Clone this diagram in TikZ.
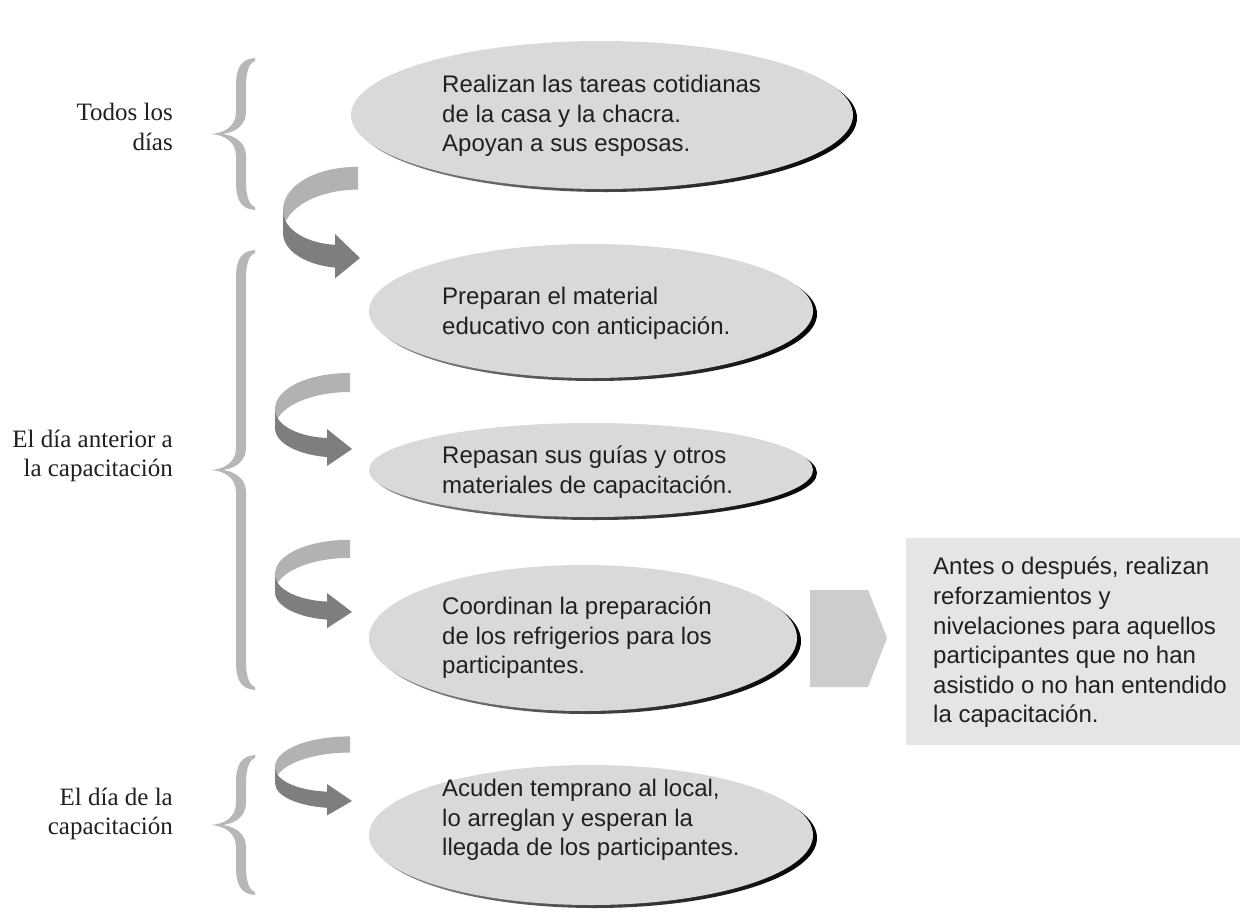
\documentclass[tikz,border=0pt]{standalone}
\usepackage{fontspec}
\setmainfont{Liberation Serif}
\newfontfamily\sansf{Liberation Sans}
\usetikzlibrary{shapes.geometric}
\definecolor{ellfill}{HTML}{D9D9D9}
\definecolor{boxfill}{HTML}{E5E5E5}
\definecolor{pentfill}{HTML}{CDCDCD}
\definecolor{bracecol}{HTML}{B6B7BA}
\definecolor{ribbonL}{HTML}{B2B2B2}
\definecolor{ribbonD}{HTML}{7E7E7E}
\definecolor{txt}{HTML}{231F20}
\tikzset{
  ellbox/.style={ellipse, fill=ellfill, draw=none, inner sep=0pt},
  elltext/.style={anchor=west, align=left, inner sep=0pt, text=txt,
    font=\sansf\fontsize{24}{29.6}\selectfont},
  sidelabel/.style={anchor=east, align=right, inner sep=0pt, text=txt,
    font=\fontsize{25}{29.5}\selectfont},
  ribbonlight/.style={fill=ribbonL, draw=none},
  ribbondark/.style={fill=ribbonD, draw=none},
}
% curled arrow: tip x, tip y, yscale
\newcommand{\curlarr}[3]{%
  \begin{scope}[shift={(#1,#2)}, yscale=#3]
    \fill[ribbonlight] (-2,-76) .. controls (-45,-76) and (-77,-60) .. (-77,-40)
      -- (-77,-21) .. controls (-77,-41) and (-43,-57) .. (-2,-57) -- cycle;
    \fill[ribbondark] (-77,-40) .. controls (-77,-22) and (-50,-12) .. (-25,-11)
      -- (-25,-20) -- (0,0) -- (-25,17) -- (-25,8)
      .. controls (-52,6) and (-77,-5) .. (-77,-21) -- cycle;
  \end{scope}}
% grey brace: right x, middle y, half height
\newcommand{\gbrace}[3]{%
  \begin{scope}[shift={(#1,#2)}]
    \fill[bracecol] (0,-#3) .. controls (-14,-#3+1) and (-19,-#3+10) .. (-19,-#3+28)
      -- (-19,-22) .. controls (-19,-8) and (-30,-1) .. (-44,0)
      .. controls (-30,1) and (-19,8) .. (-19,22)
      -- (-19,#3-28) .. controls (-19,#3-10) and (-14,#3-1) .. (0,#3)
      -- (0,#3-3) .. controls (-6,#3-5) and (-9,#3-14) .. (-9,#3-28)
      -- (-9,22) .. controls (-9,10) and (-18,2) .. (-32,0)
      .. controls (-18,-2) and (-9,-10) .. (-9,-22)
      -- (-9,-#3+28) .. controls (-9,-#3+14) and (-6,-#3+5) .. (0,-#3+3) -- cycle;
  \end{scope}}
% ellipse with shadow: name, cx, cy, rx, ry
\newcommand{\shellipse}[5]{%
  \shade[left color=black!45, right color=black]
    (#2+4,#3+3) ellipse [x radius=#4, y radius=#5];
  \node[ellbox, minimum width=2*#4, minimum height=2*#5] (#1) at (#2,#3) {};
}
\begin{document}
\begin{tikzpicture}[x=1pt,y=-1pt]
\useasboundingbox (0,0) rectangle (1240,911);
\fill[white] (0,0) rectangle (1240,911);

% braces and labels
\gbrace{255}{134}{76}
\gbrace{255}{470}{220}
\gbrace{255}{825}{70}
\node[sidelabel] (l1) at (173,127) {Todos los\\días};
\node[sidelabel] (l2) at (173,456) {El día anterior a\\la capacitación};
\node[sidelabel] (l3) at (173,814) {El día de la\\capacitación};

% ellipses
\shellipse{e1}{602}{115}{251}{74}
\shellipse{e2}{591}{311}{222}{67}
\shellipse{e3}{591}{470}{222}{47}
\shellipse{e4}{583}{638}{214}{73}
\shellipse{e5}{591}{835}{222}{70}

\node[elltext] (t1) at (442,116) {Realizan las tareas cotidianas\\de la casa y la chacra.\\Apoyan a sus esposas.};
\node[elltext] (t2) at (442,313) {Preparan el material\\educativo con anticipación.};
\node[elltext] (t3) at (442,472) {Repasan sus guías y otros\\materiales de capacitación.};
\node[elltext] (t4) at (442,638) {Coordinan la preparación\\de los refrigerios para los\\participantes.};
\node[elltext] (t5) at (442,820) {Acuden temprano al local,\\lo arreglan y esperan la\\llegada de los participantes.};

% curled arrows
\curlarr{360}{258}{1.2}
\curlarr{352}{449}{1}
\curlarr{352}{612}{0.95}
\curlarr{352}{801}{0.85}

% pentagon arrow and side box
\fill[pentfill] (810,590) -- (868,590) -- (887,638) -- (868,687) -- (810,687) -- cycle;
\fill[boxfill] (906,538) rectangle (1240,745);
\node[elltext, anchor=north west] (bt) at (933,557)
  {Antes o después, realizan\\reforzamientos y\\nivelaciones para aquellos\\participantes que no han\\asistido o no han entendido\\la capacitación.};
\end{tikzpicture}
\end{document}
